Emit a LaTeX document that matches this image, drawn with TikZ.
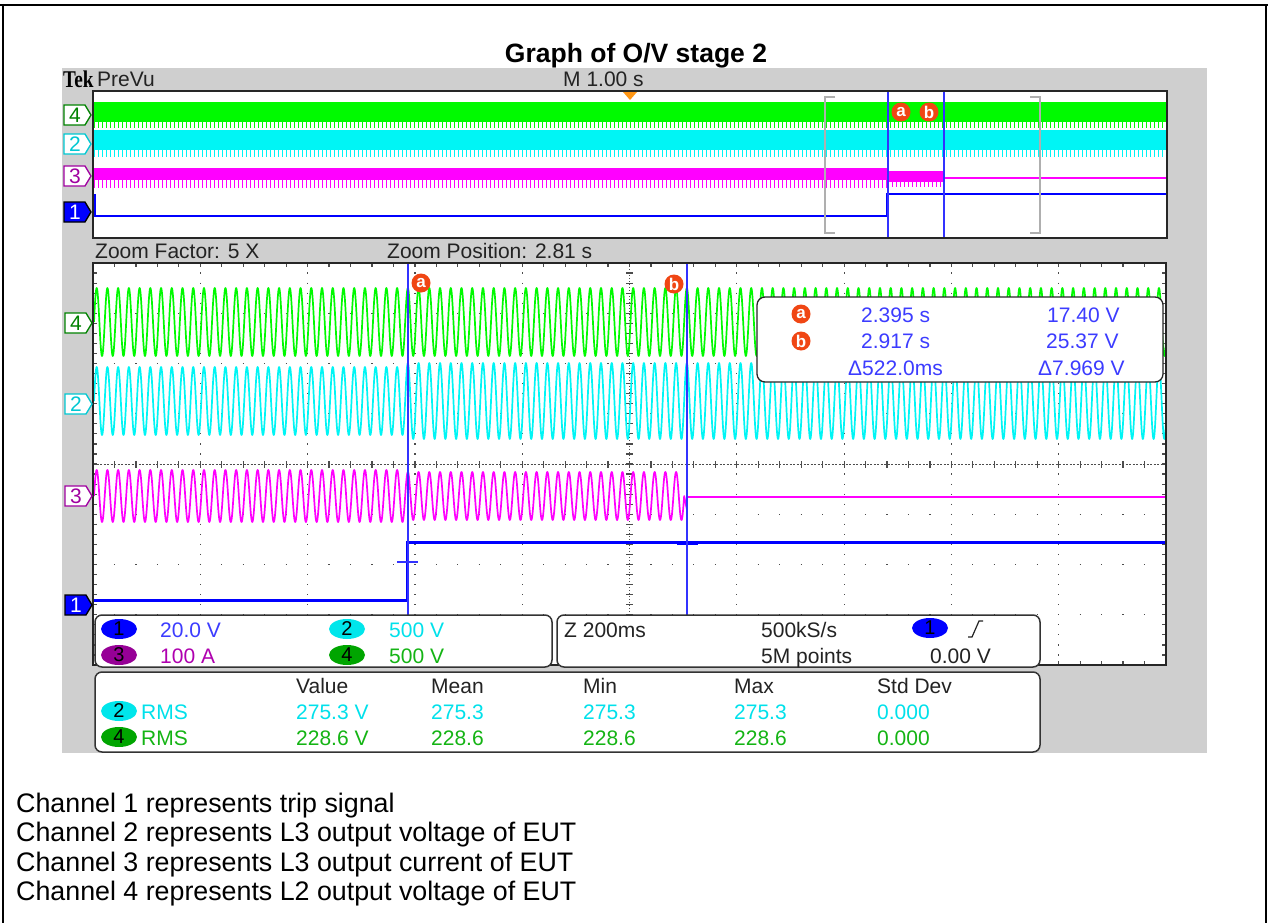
\documentclass[tikz,border=0pt]{standalone}
\usepackage{fontspec}
\setmainfont{Liberation Sans}
\newfontfamily\tekf{Liberation Sans}
\newfontfamily\tekserif[FakeStretch=0.8]{Liberation Serif}
\usetikzlibrary{shapes.geometric}
\definecolor{scrgray}{RGB}{207,207,207}
\definecolor{wgreen}{RGB}{0,250,0}
\definecolor{wcyan}{RGB}{0,245,245}
\definecolor{wmag}{RGB}{255,0,255}
\definecolor{wblue}{RGB}{0,0,255}
\definecolor{curblue}{RGB}{50,50,255}
\definecolor{orng}{RGB}{240,70,20}
\definecolor{trig}{RGB}{255,150,20}
\definecolor{tgreen}{RGB}{20,180,20}
\definecolor{tcyan}{RGB}{0,225,235}
\definecolor{tmag}{RGB}{175,0,175}
\definecolor{tblue}{RGB}{60,60,255}
\definecolor{egreen}{RGB}{0,165,0}
\definecolor{ecyan}{RGB}{0,230,235}
\definecolor{epurp}{RGB}{150,0,150}
\definecolor{tekgray}{RGB}{35,35,35}
\definecolor{brgray}{RGB}{175,175,175}
\definecolor{mgreen}{RGB}{0,130,0}
\definecolor{mcyan}{RGB}{0,200,210}
\definecolor{mpurp}{RGB}{160,0,160}
\newcommand\chtag[7]{%
  \draw[#4, fill=#5, line width=1.3pt, line join=miter] (#2,#3-10) -- (#2+21,#3-10) -- (#2+27,#3) -- (#2+21,#3+10) -- (#2,#3+10) -- cycle;
  \node[tek, text=#6] (#1) at (#2+11,#3) {#7};}
\newcommand\badge[5]{\node[ellipse, fill=#4, minimum width=36pt, minimum height=20pt, inner sep=0pt, font=\tekf\fontsize{20}{20}\selectfont] (#1) at (#2,#3) {#5};}
\newcommand\curmark[4]{\node[circle, fill=orng, minimum size=19pt, inner sep=0pt, text=white, font=\tekf\bfseries\fontsize{17}{17}\selectfont] (#1) at (#2,#3) {#4};}
\begin{document}
\begin{tikzpicture}[x=1pt,y=-1pt,
  tek/.style={font=\tekf\fontsize{21}{21}\selectfont, inner sep=0pt, text=tekgray},
  body/.style={font=\fontsize{26.8}{26.8}\selectfont, inner sep=0pt, anchor=base west},
  griddot/.style={black!70, line width=1.2pt},
  wave/.style={line width=1.7pt, line join=round}]
\useasboundingbox (0,0) rectangle (1268,923);
\fill[white] (0,0) rectangle (1268,923);
% outer frame
\draw[line width=2pt] (0,5) -- (1268,5);
\draw[line width=2pt] (3,4) -- (3,923);
\draw[line width=2pt] (1266,4) -- (1266,923);
% title
\node[anchor=base, inner sep=0pt, font=\bfseries\fontsize{26.5}{26.5}\selectfont] (title) at (636,63) {Graph of O/V stage 2};
% screen
\fill[scrgray] (62,68) rectangle (1207,753);
\node[anchor=base west, inner sep=0pt, font=\tekserif\bfseries\fontsize{24}{24}\selectfont] (tek) at (63,88) {Tek};
\node[tek, anchor=base west] (prevu) at (97,87) {PreVu};
\node[tek, anchor=base west] (mtime) at (563,87) {M 1.00 s};
% ---------- top window
\fill[white] (93,91) rectangle (1167,238);
\fill[wgreen] (94,102) rectangle (1167,122);
\draw[wgreen, line width=6pt, dash pattern=on 1.3pt off 2.7pt] (94,125) -- (1167,125);
\fill[wcyan] (94,130) rectangle (1167,150);
\draw[wcyan, line width=7pt, dash pattern=on 1.3pt off 2.7pt] (94,153) -- (1167,153);
\fill[wmag] (94,168) rectangle (888,180);
\draw[wmag, line width=8pt, dash pattern=on 1.3pt off 2.7pt] (94,184) -- (888,184);
\fill[wmag] (888,171) rectangle (944,182);
\draw[wmag, line width=5pt, dash pattern=on 1.3pt off 2.7pt] (888,184) -- (944,184);
\draw[wmag, line width=2.5pt] (944,178) -- (1167,178);
\draw[wblue, line width=1.4pt] (95,194) -- (95,216) -- (887,216) -- (887,194) -- (1167,194);
\draw[brgray, line width=2.5pt] (835,97) -- (825,97) -- (825,233) -- (835,233);
\draw[brgray, line width=2.5pt] (1030,97) -- (1040,97) -- (1040,233) -- (1030,233);
\draw[curblue, line width=1.3pt] (888,91) -- (888,238);
\draw[curblue, line width=1.3pt] (944,91) -- (944,238);
\curmark{ta}{901}{112}{a}
\curmark{tb}{929}{112}{b}
\fill[trig] (623,92) -- (637,92) -- (630,100) -- cycle;
\draw[black!85, line width=1.6pt] (93,91) rectangle (1167,238);
\chtag{t4}{64}{115}{mgreen}{white}{mgreen}{4}
\chtag{t2}{64}{144}{mcyan}{white}{mcyan}{2}
\chtag{t3}{64}{176}{mpurp}{white}{mpurp}{3}
\chtag{t1}{64}{212}{black}{wblue}{white}{1}
% zoom labels
\node[tek, anchor=base west] (zf) at (95,258) {Zoom Factor: 5 X};
\node[tek, anchor=base west] (zp) at (387,258) {Zoom Position: 2.81 s};
% ---------- main window
\fill[white] (93,263) rectangle (1166,665);
\begin{scope}
\clip (93,263) rectangle (1166,665);
\foreach \i in {1,2,3,4,6,7,8,9}
  \draw[griddot, dash pattern=on 1.2pt off 8.85pt, dash phase=0.6pt] ({93+107.3*\i},263) -- ({93+107.3*\i},665);
\foreach \j in {1,2,3,5,6,7}
  \draw[griddot, dash pattern=on 1.2pt off 20.26pt, dash phase=0.6pt] (93,{263+50.25*\j}) -- (1166,{263+50.25*\j});
\draw[black!70, line width=1pt, dash pattern=on 1pt off 2pt] (629.5,263) -- (629.5,665);
\draw[black!70, line width=7pt, dash pattern=on 1.2pt off 8.85pt, dash phase=0.6pt] (629.5,263) -- (629.5,665);
\draw[black!70, line width=1pt, dash pattern=on 2pt off 1.5pt] (93,464) -- (1166,464);
\draw[black!70, line width=7pt, dash pattern=on 1.2pt off 20.26pt, dash phase=0.6pt] (93,464) -- (1166,464);
\draw[black!70, line width=8pt, dash pattern=on 1.2pt off 20.26pt, dash phase=0.6pt] (93,263) -- (1166,263);
\draw[black!70, line width=8pt, dash pattern=on 1.2pt off 20.26pt, dash phase=0.6pt] (93,665) -- (1166,665);
\draw[black!70, line width=8pt, dash pattern=on 1.2pt off 8.85pt, dash phase=0.6pt] (93,263) -- (93,665);
\draw[black!70, line width=8pt, dash pattern=on 1.2pt off 8.85pt, dash phase=0.6pt] (1166,263) -- (1166,665);
% ch4 green
\draw[wgreen, wave] (94,322) \foreach \k in {1,...,100}{ sin ++(2.6825,-34) cos ++(2.6825,34) sin ++(2.6825,34) cos ++(2.6825,-34)};
% ch2 cyan
\draw[wcyan, wave] (94,401) \foreach \k in {1,...,29}{ sin ++(2.6825,-34) cos ++(2.6825,34) sin ++(2.6825,34) cos ++(2.6825,-34)}
  \foreach \k in {1,...,71}{ sin ++(2.6825,-38) cos ++(2.6825,38) sin ++(2.6825,38) cos ++(2.6825,-38)};
% ch3 magenta
\draw[wmag, wave] (94,496) \foreach \k in {1,...,29}{ sin ++(2.6825,-26) cos ++(2.6825,26) sin ++(2.6825,26) cos ++(2.6825,-26)}
  \foreach \k in {1,...,26}{ sin ++(2.6825,-24) cos ++(2.6825,24) sin ++(2.6825,24) cos ++(2.6825,-24)} -- (687,510) -- (687,497);
\draw[wmag, line width=2.6pt] (687,497) -- (1166,497);
% ch1 blue
\draw[wblue, line width=3pt] (93,600) -- (407,600) -- (407,542) -- (1166,542);
\draw[wblue, line width=4.5pt] (677,543) -- (698,543);
\draw[curblue, line width=1.2pt] (397,562) -- (418,562);
% cursors
\draw[curblue, line width=1.3pt] (408,263) -- (408,665);
\draw[curblue, line width=1.3pt] (687,263) -- (687,665);
\end{scope}
\curmark{ma}{421}{283}{a}
\curmark{mb}{674}{284}{b}
% measurement box
\draw[black!85, line width=1.3pt, fill=white, rounded corners=8pt] (757,297) rectangle (1163,382);
\curmark{ra}{801}{314}{a}
\curmark{rb}{801}{341}{b}
\node[tek, text=tblue, anchor=base west] (t1v) at (861,322) {2.395 s};
\node[tek, text=tblue, anchor=base west] (v1v) at (1047,322) {17.40 V};
\node[tek, text=tblue, anchor=base west] (t2v) at (861,348) {2.917 s};
\node[tek, text=tblue, anchor=base west] (v2v) at (1046,348) {25.37 V};
\node[tek, text=tblue, anchor=base west] (dtv) at (848,375) {Δ522.0ms};
\node[tek, text=tblue, anchor=base west] (dvv) at (1038,375) {Δ7.969 V};
\draw[black!85, line width=1.8pt] (93,263) rectangle (1166,665);
\chtag{m4}{65}{323}{mgreen}{white}{mgreen}{4}
\chtag{m2}{65}{404}{mcyan}{white}{mcyan}{2}
\chtag{m3}{65}{496}{mpurp}{white}{mpurp}{3}
\chtag{m1}{65}{605}{black}{wblue}{white}{1}
% ---------- bottom boxes
\draw[black!80, line width=1.5pt, fill=white, rounded corners=7pt] (95,615) rectangle (552,667);
\draw[black!80, line width=1.5pt, fill=white, rounded corners=7pt] (557,615) rectangle (1040,667);
\draw[black!80, line width=1.5pt, fill=white, rounded corners=7pt] (95,672) rectangle (1040,752);
\badge{b1}{119}{629}{wblue}{1}
\node[tek, text=tblue, anchor=base west] (s1) at (160,637) {20.0 V};
\badge{b2}{347}{629}{ecyan}{2}
\node[tek, text=tcyan, anchor=base west] (s2) at (389,637) {500 V};
\badge{b3}{119}{655}{epurp}{3}
\node[tek, text=tmag, anchor=base west] (s3) at (160,663) {100 A};
\badge{b4}{347}{655}{egreen}{4}
\node[tek, text=tgreen, anchor=base west] (s4) at (389,663) {500 V};
\node[tek, anchor=base west] (zt) at (564,637) {Z 200ms};
\node[tek, anchor=base west] (sr) at (761,637) {500kS/s};
\node[tek, anchor=base west] (pts) at (761,663) {5M points};
\badge{bt}{930}{628}{wblue}{1}
\draw[tekgray, line width=1.2pt] (968,637) -- (972,637) -- (979,621) -- (983,621);
\node[tek, anchor=base east] (tl) at (991,663) {0.00 V};
% measurement table
\node[tek, anchor=base west] (hv) at (296,693) {Value};
\node[tek, anchor=base west] (hm) at (431,693) {Mean};
\node[tek, anchor=base west] (hn) at (583,693) {Min};
\node[tek, anchor=base west] (hx) at (734,693) {Max};
\node[tek, anchor=base west] (hs) at (877,693) {Std Dev};
\badge{r2}{119}{711}{ecyan}{2}
\node[tek, text=tcyan, anchor=base west] (r2a) at (141,719) {RMS};
\node[tek, text=tcyan, anchor=base west] (r2b) at (296,719) {275.3 V};
\node[tek, text=tcyan, anchor=base west] (r2c) at (431,719) {275.3};
\node[tek, text=tcyan, anchor=base west] (r2d) at (583,719) {275.3};
\node[tek, text=tcyan, anchor=base west] (r2e) at (734,719) {275.3};
\node[tek, text=tcyan, anchor=base west] (r2f) at (877,719) {0.000};
\badge{r4}{119}{737}{egreen}{4}
\node[tek, text=tgreen, anchor=base west] (r4a) at (141,745) {RMS};
\node[tek, text=tgreen, anchor=base west] (r4b) at (296,745) {228.6 V};
\node[tek, text=tgreen, anchor=base west] (r4c) at (431,745) {228.6};
\node[tek, text=tgreen, anchor=base west] (r4d) at (583,745) {228.6};
\node[tek, text=tgreen, anchor=base west] (r4e) at (734,745) {228.6};
\node[tek, text=tgreen, anchor=base west] (r4f) at (877,745) {0.000};
% ---------- captions
\node[body] (c1) at (16,812) {Channel 1 represents trip signal};
\node[body] (c2) at (16,841.5) {Channel 2 represents L3 output voltage of EUT};
\node[body] (c3) at (16,871) {Channel 3 represents L3 output current of EUT};
\node[body] (c4) at (16,900.5) {Channel 4 represents L2 output voltage of EUT};
\end{tikzpicture}
\end{document}
